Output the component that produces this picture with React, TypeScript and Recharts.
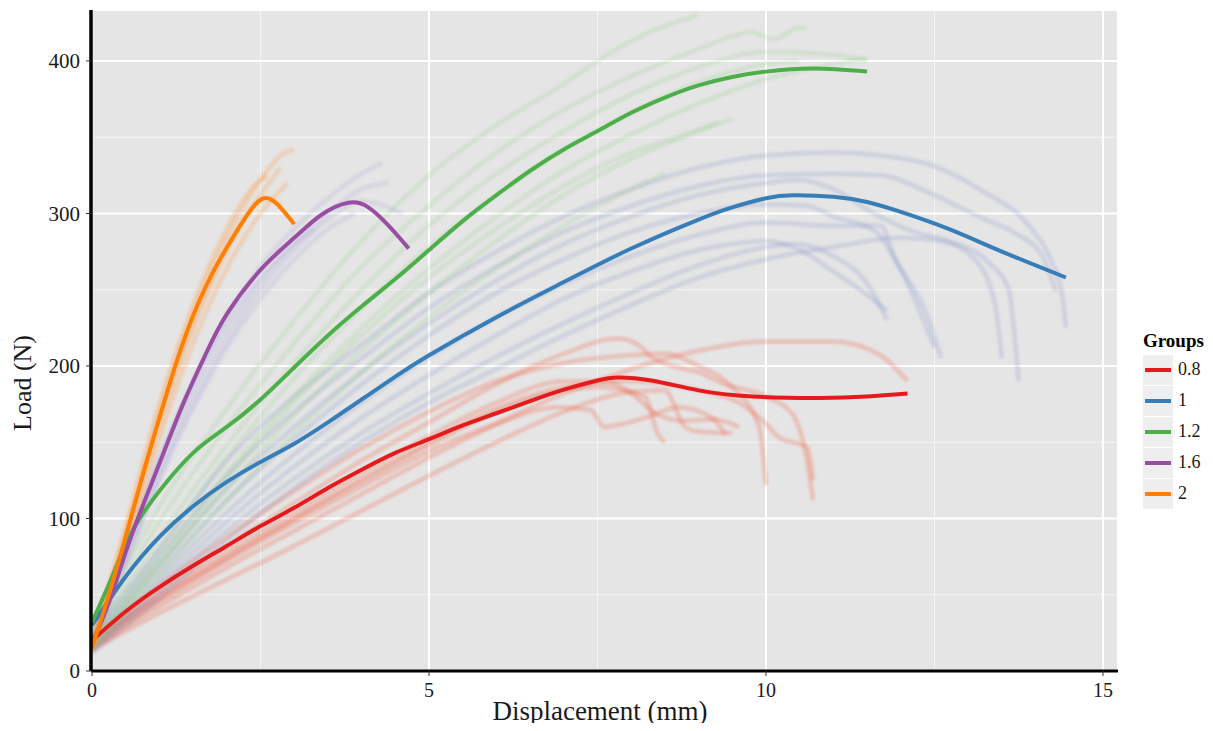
import { LineChart, Line, XAxis, YAxis, CartesianGrid, ReferenceLine, Label } from 'recharts'

type Pt = [number, number]

const X_TICKS = [0, 5, 10, 15]
const Y_TICKS = [0, 100, 200, 300, 400]
const X_MINOR = [2.5, 7.5, 12.5]
const Y_MINOR = [50, 150, 250, 350]

const GROUPS = ['0.8', '1', '1.2', '1.6', '2']
const COLORS = ['#e41a1c', '#377eb8', '#4daf4a', '#984ea3', '#ff7f00']
const FAINT = ['#ef6548', '#7b86c2', '#8fcf85', '#a9a6d6', '#fd9a4a']
const FAINT_OPACITY = [0.26, 0.2, 0.2, 0.22, 0.26]

// smoothed group means
const mean08: Pt[] = [
  [0, 20], [0.5, 39], [1, 55], [1.5, 69], [2, 82], [2.5, 95], [3, 107], [3.5, 120],
  [4, 132], [4.5, 143], [5, 152], [5.5, 161], [6, 169], [6.5, 177], [7, 184.5], [7.5, 190.5],
  [7.8, 192.5], [8.3, 190.5], [9, 184], [9.8, 180], [10.8, 179], [11.5, 180], [12.1, 182],
]
const mean10: Pt[] = [
  [0, 30], [0.5, 62], [1, 88], [1.5, 108], [2, 124], [2.5, 137], [3, 149], [3.5, 163],
  [4, 178], [4.5, 193], [5, 207], [6, 232], [7, 255], [8, 277], [9, 296], [9.5, 304],
  [10, 310], [10.4, 312], [11, 311], [11.5, 307.5], [12, 301], [12.7, 290], [13.5, 275], [14.45, 258],
]
const mean12: Pt[] = [
  [0, 32], [0.3, 62], [0.6, 92], [1, 118], [1.5, 143], [2, 160], [2.5, 178], [3, 199],
  [3.5, 220], [4, 239], [4.5, 257], [5, 276], [5.5, 295], [6, 312], [6.5, 328], [7, 342],
  [7.5, 354], [8, 366], [8.5, 376], [9, 384], [9.5, 389.5], [10, 393], [10.7, 395], [11.5, 393],
]
const mean16: Pt[] = [
  [0, 18], [0.25, 45], [0.5, 78], [0.75, 108], [1, 136], [1.35, 175], [1.7, 209], [2, 234],
  [2.5, 263], [3, 284], [3.4, 299], [3.8, 307], [4.1, 304], [4.4, 292], [4.7, 277],
]
const mean20: Pt[] = [
  [0, 15], [0.25, 50], [0.5, 88], [0.75, 128], [1, 166], [1.25, 202], [1.5, 233], [1.8, 262],
  [2.1, 285], [2.35, 302], [2.55, 310], [2.75, 306], [3, 293],
]

// individual specimens (faint)
const spec08: Pt[][] = [
  [[0, 15], [1, 42], [2, 68], [3, 92], [4, 116], [5, 140], [6, 162], [7, 182], [8, 198], [9, 210], [10, 216], [11, 216], [11.7, 207], [12.1, 190]],
  [[0, 18], [1, 52], [2, 82], [3, 110], [4, 138], [5, 163], [6, 188], [7, 208], [7.8, 218], [8.1, 214], [8.3, 206], [8.6, 200], [9, 196], [9.4, 188], [10, 180], [10.4, 168], [10.6, 140], [10.7, 112]],
  [[0, 20], [1, 50], [2, 78], [3, 104], [4, 130], [5, 154], [6, 176], [7, 190], [7.6, 190], [8, 182], [8.4, 168], [8.8, 164], [9.2, 165], [9.6, 160]],
  [[0, 16], [1, 45], [2, 72], [3, 97], [4, 121], [5, 144], [6, 162], [6.9, 173], [7.4, 171], [7.6, 160], [8.2, 166], [8.7, 173], [9.2, 166], [9.4, 155]],
  [[0, 22], [1, 56], [2, 88], [3, 118], [4, 146], [5, 170], [6, 190], [7, 202], [8, 207], [8.5, 208], [9, 200], [9.5, 186], [9.9, 160], [10, 122]],
  [[0, 14], [1, 38], [2, 60], [3, 82], [4, 105], [5, 128], [6, 150], [7, 170], [8, 183], [8.5, 184], [8.8, 160], [9, 157], [9.5, 156]],
  [[0, 19], [1, 48], [2, 75], [3, 100], [4, 126], [5, 150], [6, 172], [7, 186], [8, 190], [9, 184], [9.6, 176], [10, 162], [10.2, 153], [10.6, 147], [10.7, 125]],
  [[0, 17], [1, 47], [2, 74], [3, 100], [4, 124], [5, 148], [6, 170], [7, 184], [7.5, 186], [8.2, 180], [8.4, 155], [8.5, 150]],
]
const spec10: Pt[][] = [
  [[0, 25], [1, 80], [2, 138], [3, 180], [4, 214], [5, 248], [6, 275], [7, 298], [8, 316], [9, 330], [10, 338], [11, 340], [11.7, 338], [12.5, 331], [13.2, 315], [13.9, 292], [14.2, 272], [14.4, 245], [14.45, 225]],
  [[0, 22], [1, 75], [2, 128], [3, 170], [4, 205], [5, 238], [6, 265], [7, 288], [8, 305], [9, 318], [10, 325], [11, 326], [11.7, 325], [12.4, 314], [13.2, 297], [13.7, 287], [14.1, 272], [14.3, 249]],
  [[0, 20], [1, 70], [2, 120], [3, 160], [4, 196], [5, 228], [6, 256], [7, 280], [8, 298], [9, 312], [10, 320], [10.5, 322], [11, 316], [11.6, 300], [12.2, 288], [12.7, 282], [13.3, 268], [13.6, 250], [13.7, 215], [13.75, 190]],
  [[0, 18], [1, 65], [2, 112], [3, 152], [4, 188], [5, 220], [6, 248], [7, 270], [8, 288], [9, 300], [10, 306], [10.6, 305], [11, 298], [11.6, 289], [12, 263], [12.5, 212]],
  [[0, 16], [1, 60], [2, 104], [3, 142], [4, 176], [5, 206], [6, 232], [7, 254], [8, 272], [9, 286], [10, 294], [11, 292], [11.7, 292], [11.9, 272], [12.4, 232], [12.6, 205]],
  [[0, 15], [1, 56], [2, 98], [3, 134], [4, 166], [5, 194], [6, 220], [7, 244], [8, 262], [9, 276], [9.5, 280], [10, 282], [10.5, 276], [11, 262], [11.4, 250], [11.8, 236]],
  [[0, 14], [1, 52], [2, 92], [3, 126], [4, 156], [5, 182], [6, 206], [7, 228], [8, 248], [9, 266], [10, 278], [10.4, 280], [11, 272], [11.5, 254], [11.8, 230]],
  [[0, 12], [1, 48], [2, 86], [3, 120], [4, 150], [5, 176], [6, 198], [7, 220], [8, 240], [9, 258], [10, 270], [11, 278], [12, 284], [12.6, 282], [13.1, 270], [13.4, 240], [13.5, 205]],
]
const spec12: Pt[][] = [
  [[0, 25], [1, 108], [2, 172], [3, 230], [4, 282], [5, 325], [6, 358], [7, 385], [7.5, 400], [8, 413], [8.5, 423], [9, 430]],
  [[0, 22], [1, 98], [2, 160], [3, 215], [4, 265], [5, 305], [6, 340], [7, 368], [8, 390], [9, 408], [9.5, 416], [9.8, 419], [10.1, 414], [10.5, 422], [10.6, 421]],
  [[0, 20], [1, 88], [2, 148], [3, 202], [4, 250], [5, 292], [6, 326], [7, 354], [8, 378], [9, 396], [10, 406], [11, 404], [11.5, 400]],
  [[0, 18], [1, 80], [2, 140], [3, 192], [4, 238], [5, 278], [6, 312], [7, 342], [8, 366], [9, 386], [10, 398], [10.5, 400]],
  [[0, 16], [1, 74], [2, 130], [3, 180], [4, 225], [5, 264], [6, 298], [7, 328], [8, 352], [9, 372], [10, 388], [11, 398], [11.5, 402]],
  [[0, 15], [1, 68], [2, 120], [3, 168], [4, 210], [5, 248], [6, 282], [7, 312], [8, 336], [9, 354], [9.5, 362]],
  [[0, 14], [1, 62], [2, 112], [3, 156], [4, 196], [5, 232], [6, 264], [7, 292], [8, 316], [8.5, 326]],
  [[0, 16], [1, 70], [2, 126], [3, 176], [4, 220], [5, 258], [6, 290], [7, 318], [7.5, 330], [8, 340], [9, 355], [9.3, 360]],
]
const spec16: Pt[][] = [
  [[0, 18], [0.5, 80], [1, 140], [1.5, 190], [2, 232], [2.5, 265], [3, 290], [3.5, 310], [4, 326], [4.3, 333]],
  [[0, 20], [0.5, 75], [1, 132], [1.5, 182], [2, 222], [2.5, 255], [3, 280], [3.5, 300], [4, 316], [4.4, 320]],
  [[0, 15], [0.5, 70], [1, 125], [1.5, 172], [2, 212], [2.5, 244], [3, 270], [3.5, 290], [3.9, 300]],
  [[0, 16], [0.5, 78], [1, 138], [1.5, 188], [2, 228], [2.5, 258], [3, 280], [3.3, 290]],
  [[0, 18], [0.5, 72], [1, 128], [1.5, 176], [2, 216], [2.5, 250], [3, 276], [3.5, 296], [4, 308], [4.6, 300]],
]
const spec20: Pt[][] = [
  [[0, 15], [0.5, 90], [1, 170], [1.5, 235], [2, 285], [2.5, 322], [2.8, 338], [3, 342]],
  [[0, 14], [0.5, 85], [1, 160], [1.5, 225], [2, 275], [2.5, 312], [2.8, 330]],
  [[0, 16], [0.5, 95], [1, 175], [1.5, 240], [2, 290], [2.4, 318], [2.6, 325]],
  [[0, 13], [0.5, 80], [1, 152], [1.5, 215], [2, 264], [2.5, 300], [2.9, 320]],
  [[0, 15], [0.5, 88], [1, 165], [1.5, 228], [2, 278], [2.3, 300], [2.6, 310], [2.8, 305]],
]

const MEANS = [mean08, mean10, mean12, mean16, mean20]
const SPECIMENS = [spec08, spec10, spec12, spec16, spec20]

const toRows = (pts: Pt[]) => pts.map(([x, y]) => ({ x, y }))

const serif = '"Liberation Serif", "Times New Roman", serif'

function Legend() {
  return (
    <div style={{ position: 'absolute', left: 1143, top: 330, fontFamily: serif }}>
      <div style={{ fontWeight: 'bold', fontSize: 19, lineHeight: '22px', marginBottom: 2 }}>Groups</div>
      {GROUPS.map((g, i) => (
        <div key={g} style={{ display: 'flex', alignItems: 'center', height: 31 }}>
          <div style={{ width: 30, height: 30, background: '#eeeeee', position: 'relative' }}>
            <div style={{ position: 'absolute', left: 2, right: 2, top: 13, height: 4, background: COLORS[i] }} />
          </div>
          <span style={{ fontSize: 18, marginLeft: 5, color: '#1a1a1a' }}>{g}</span>
        </div>
      ))}
    </div>
  )
}

export default function App() {
  return (
    <div style={{ position: 'relative', margin: -8, width: 1213, height: 731, background: '#fff' }}>
      <svg width={0} height={0} style={{ position: 'absolute' }}>
        <defs>
          <filter id="soft" x="-5%" y="-5%" width="110%" height="110%">
            <feGaussianBlur stdDeviation="1.3" />
          </filter>
        </defs>
      </svg>
      <LineChart width={1213} height={731} margin={{ top: 10, right: 95, bottom: 0, left: 0 }}>
        <CartesianGrid fill="#e5e5e5" stroke="#ffffff" strokeWidth={2} />
        {X_MINOR.map((v) => (
          <ReferenceLine key={'vx' + v} x={v} stroke="#ffffff" strokeOpacity={0.6} strokeWidth={1} />
        ))}
        {Y_MINOR.map((v) => (
          <ReferenceLine key={'hy' + v} y={v} stroke="#ffffff" strokeOpacity={0.6} strokeWidth={1} />
        ))}
        <XAxis
          dataKey="x"
          type="number"
          domain={[-0.015, 15.223]}
          ticks={X_TICKS}
          allowDataOverflow
          height={60}
          axisLine={{ stroke: '#000', strokeWidth: 3 }}
          tickLine={{ stroke: '#333' }}
          tickSize={5}
          tickMargin={7}
          tick={{ fontFamily: serif, fontSize: 20, fill: '#1a1a1a' }}
        >
          <Label
            content={() => (
              <text x={600} y={720} textAnchor="middle" fontFamily={serif} fontSize={27} fill="#1a1a1a">
                Displacement (mm)
              </text>
            )}
          />
        </XAxis>
        <YAxis
          type="number"
          domain={[0, 433.4]}
          ticks={Y_TICKS}
          allowDataOverflow
          width={91}
          axisLine={{ stroke: '#000', strokeWidth: 3.5 }}
          tickLine={{ stroke: '#333' }}
          tickSize={5}
          tickMargin={6}
          tick={{ fontFamily: serif, fontSize: 21, fill: '#1a1a1a' }}
        >
          <Label
            content={() => (
              <text
                x={0}
                y={0}
                transform="translate(31,383) rotate(-90)"
                textAnchor="middle"
                fontFamily={serif}
                fontSize={26}
                fill="#1a1a1a"
              >
                Load (N)
              </text>
            )}
          />
        </YAxis>
        {SPECIMENS.map((group, gi) =>
          group.map((pts, si) => (
            <Line
              key={`s${gi}-${si}`}
              data={toRows(pts)}
              dataKey="y"
              type="monotone"
              dot={false}
              activeDot={false}
              stroke={FAINT[gi]}
              strokeOpacity={FAINT_OPACITY[gi]}
              strokeWidth={5}
              filter="url(#soft)"
              isAnimationActive={false}
            />
          ))
        )}
        {MEANS.map((pts, i) => (
          <Line
            key={'m' + i}
            data={toRows(pts)}
            dataKey="y"
            type="natural"
            dot={false}
            activeDot={false}
            stroke={COLORS[i]}
            strokeWidth={4}
            isAnimationActive={false}
          />
        ))}
      </LineChart>
      <Legend />
    </div>
  )
}
